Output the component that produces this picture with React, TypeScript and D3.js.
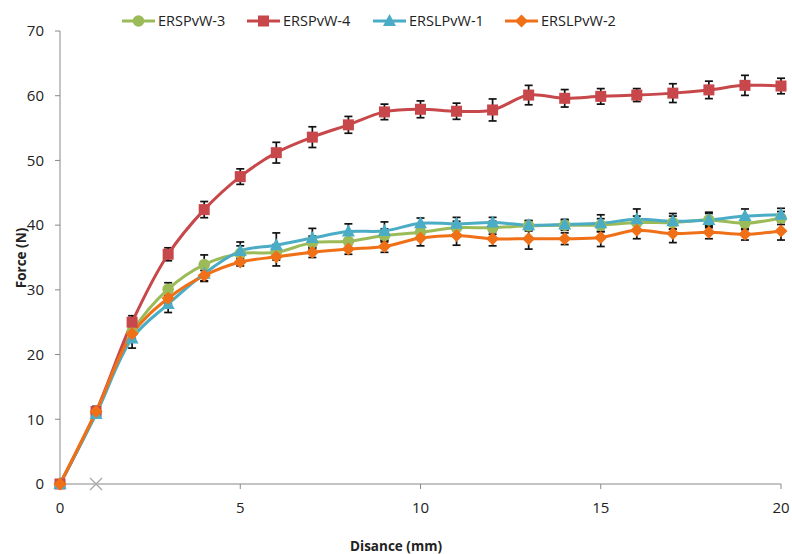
import React from "react";
import * as d3 from "d3";

const distances = [0, 1, 2, 3, 4, 5, 6, 7, 8, 9, 10, 11, 12, 13, 14, 15, 16, 17, 18, 19, 20];

const seriesNames = ["ERSPvW-3", "ERSPvW-4", "ERSLPvW-1", "ERSLPvW-2"];

const ersp3 = [0, 11, 23.5, 30.1, 33.9, 35.6, 35.8, 37.3, 37.5, 38.4, 38.9, 39.6, 39.6, 39.9, 40.0, 40.0, 40.4, 40.4, 40.8, 40.3, 41.1];
const ersp3Err = [0, 0.6, 1.0, 1.0, 1.5, 1.2, 1.2, 1.0, 1.0, 1.0, 1.0, 1.0, 1.0, 0.8, 0.8, 1.0, 1.0, 1.0, 1.0, 1.0, 1.0];

const ersp4 = [0, 11.2, 25.0, 35.5, 42.4, 47.5, 51.2, 53.6, 55.5, 57.5, 57.9, 57.6, 57.8, 60.1, 59.6, 59.9, 60.1, 60.4, 60.9, 61.6, 61.5];
const ersp4Err = [0, 0.8, 1.0, 1.0, 1.25, 1.2, 1.6, 1.6, 1.3, 1.2, 1.3, 1.25, 1.7, 1.5, 1.35, 1.2, 1.0, 1.45, 1.35, 1.55, 1.2];

const ersl1 = [0, 10.8, 22.5, 27.8, 32.5, 36.0, 36.9, 38.0, 39.0, 39.1, 40.3, 40.2, 40.4, 40.0, 40.1, 40.3, 40.9, 40.6, 40.8, 41.4, 41.6];
const ersl1Err = [0, 0.6, 1.5, 1.3, 1.2, 1.4, 1.9, 1.5, 1.2, 1.4, 0.8, 1.0, 0.8, 0.7, 0.8, 1.3, 1.6, 1.2, 1.2, 1.1, 1.0];

const ersl2 = [0, 11.2, 23.2, 28.7, 32.2, 34.3, 35.1, 35.8, 36.3, 36.7, 38.0, 38.4, 37.9, 37.9, 37.9, 38.1, 39.2, 38.7, 38.9, 38.6, 39.1];
const ersl2Err = [0, 0.6, 1.0, 0.9, 0.8, 0.6, 1.4, 0.8, 0.8, 0.9, 1.2, 1.5, 1.1, 1.6, 0.9, 1.4, 1.3, 1.4, 1.0, 0.9, 1.4];

const xTicks = [0, 5, 10, 15, 20];
const yTicks = [0, 10, 20, 30, 40, 50, 60, 70];

const colors = ["#9BBB59", "#C8474A", "#4BACC6", "#F07018"];
const shapes = ["circle", "square", "triangle", "diamond"];

const allValues = [ersp3, ersp4, ersl1, ersl2];
const allErrors = [ersp3Err, ersp4Err, ersl1Err, ersl2Err];

const W = 792;
const H = 554;
const left = 60;
const right = 781;
const top = 31;
const bottom = 484;
const font = "'Open Sans', 'Noto Sans', sans-serif";

function Marker({ shape, x, y, color }: { shape: string; x: number; y: number; color: string }) {
  if (shape === "circle") return <circle cx={x} cy={y} r={5.8} fill={color} />;
  if (shape === "square") return <rect x={x - 5.5} y={y - 5.5} width={11} height={11} fill={color} />;
  if (shape === "triangle") {
    const p = `${x},${y - 7} ${x + 6.5},${y + 5} ${x - 6.5},${y + 5}`;
    return <polygon points={p} fill={color} />;
  }
  const p = `${x},${y - 6.5} ${x + 6.5},${y} ${x},${y + 6.5} ${x - 6.5},${y}`;
  return <polygon points={p} fill={color} />;
}

export default function App() {
  const xs = d3.scaleLinear().domain([0, 20]).range([left, right]);
  const ys = d3.scaleLinear().domain([0, 70]).range([bottom, top]);
  const line = d3
    .line<number>()
    .x((_, i) => xs(distances[i]))
    .y((d) => ys(d))
    .curve(d3.curveCatmullRom.alpha(0.5));

  const legendX = [122, 247, 373, 505];

  return (
    <svg width={W} height={H} style={{ position: "absolute", left: 0, top: 0, background: "#fff" }}>
      <rect x={0} y={0} width={W} height={H} fill="#fff" />
      {/* axes */}
      <line x1={left} x2={left} y1={top} y2={bottom} stroke="#888" strokeWidth={1} />
      <line x1={left} x2={right} y1={bottom} y2={bottom} stroke="#888" strokeWidth={1} />
      {yTicks.map((t) => (
        <g key={"y" + t}>
          <line x1={left - 5} x2={left} y1={ys(t)} y2={ys(t)} stroke="#888" />
          <text x={left - 16} y={ys(t)} dy="0.35em" textAnchor="end" fontFamily={font} fontSize={15} fill="#222">
            {t}
          </text>
        </g>
      ))}
      {xTicks.map((t) => (
        <g key={"x" + t}>
          <line x1={xs(t)} x2={xs(t)} y1={bottom} y2={bottom + 5} stroke="#888" />
          <text x={xs(t)} y={bottom + 29} textAnchor="middle" fontFamily={font} fontSize={15} fill="#222">
            {t}
          </text>
        </g>
      ))}
      {/* grey cross marker */}
      <g stroke="#aaa" strokeWidth={1.3}>
        <line x1={xs(1) - 6} x2={xs(1) + 6} y1={ys(0) - 6} y2={ys(0) + 6} />
        <line x1={xs(1) - 6} x2={xs(1) + 6} y1={ys(0) + 6} y2={ys(0) - 6} />
      </g>
      {/* error bars */}
      {allValues.map((vals, si) => (
        <g key={"e" + si} stroke="#111" strokeWidth={1.7}>
          {vals.map((v, i) => {
            const e = allErrors[si][i];
            if (!e) return null;
            const x = xs(distances[i]);
            const y1 = ys(v + e);
            const y2 = ys(v - e);
            return (
              <g key={i}>
                <line x1={x} x2={x} y1={y1} y2={y2} />
                <line x1={x - 4} x2={x + 4} y1={y1} y2={y1} />
                <line x1={x - 4} x2={x + 4} y1={y2} y2={y2} />
              </g>
            );
          })}
        </g>
      ))}
      {/* series lines */}
      {allValues.map((vals, si) => (
        <path key={"l" + si} d={line(vals) || ""} fill="none" stroke={colors[si]} strokeWidth={3} />
      ))}
      {/* markers */}
      {allValues.map((vals, si) => (
        <g key={"m" + si}>
          {vals.map((v, i) => (
            <Marker key={i} shape={shapes[si]} x={xs(distances[i])} y={ys(v)} color={colors[si]} />
          ))}
        </g>
      ))}
      {/* legend */}
      {seriesNames.map((n, si) => (
        <g key={"lg" + si}>
          <line x1={legendX[si]} x2={legendX[si] + 33} y1={21} y2={21} stroke={colors[si]} strokeWidth={3} />
          <Marker shape={shapes[si]} x={legendX[si] + 16.5} y={21} color={colors[si]} />
          <text x={legendX[si] + 36} y={21} dy="0.35em" fontFamily={font} fontSize={14.5} fill="#222">
            {n}
          </text>
        </g>
      ))}
      {/* axis titles */}
      <text
        transform={`translate(26, 258) rotate(-90)`}
        textAnchor="middle"
        fontFamily={font}
        fontSize={13.5}
        fontWeight="bold"
        fill="#222"
      >
        Force (N)
      </text>
      <text x={396} y={551} textAnchor="middle" fontFamily={font} fontSize={13.5} fontWeight="bold" fill="#222">
        Disance (mm)
      </text>
    </svg>
  );
}
